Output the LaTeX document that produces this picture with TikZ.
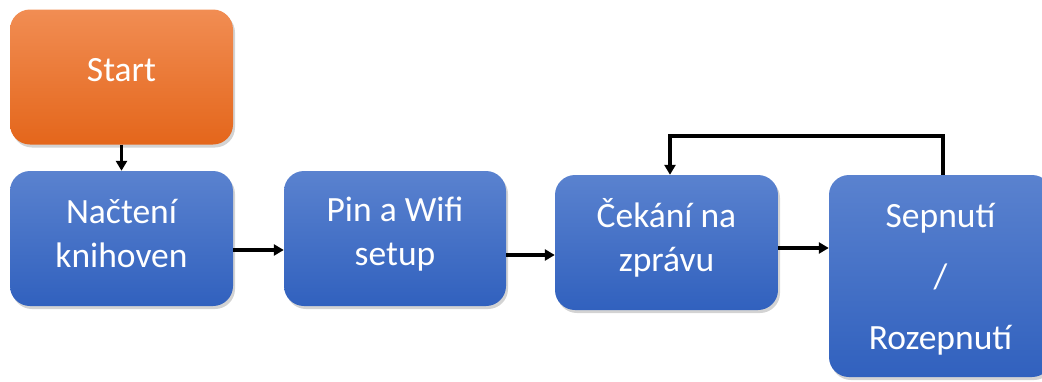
\documentclass[tikz,border=0pt]{standalone}
\usepackage{fontspec}
\setmainfont{Carlito}
\usetikzlibrary{arrows.meta,shadows,calc}
\definecolor{bluetop}{HTML}{5A82CF}
\definecolor{bluebot}{HTML}{3161BE}
\definecolor{orgtop}{HTML}{F18D53}
\definecolor{orgbot}{HTML}{E4661B}
\tikzset{
  box/.style={rounded corners=20pt, minimum width=223pt, minimum height=135pt,
    inner sep=0pt,
    drop shadow={opacity=0.35, shadow xshift=2pt, shadow yshift=-3pt}},
  bluebox/.style={box, top color=bluetop, bottom color=bluebot},
  orangebox/.style={box, top color=orgtop, bottom color=orgbot},
  boxtext/.style={align=center, text=white, inner sep=0pt,
    font=\fontsize{35.5}{44}\selectfont},
  arr/.style={line width=3.5pt, -{Triangle[length=10pt,width=11pt]}},
}
\begin{document}
\begin{tikzpicture}[x=1pt,y=-1pt]
  \useasboundingbox (0,0) rectangle (1042,381);
  \begin{scope}
  \clip (0,0) rectangle (1042,381);
  \node[orangebox] (start) at (121.5,77) {};
  \node[bluebox] (n1) at (121.5,238.5) {};
  \node[bluebox, minimum width=222pt] (n2) at (395,238.5) {};
  \node[bluebox] (n3) at (666.5,242.5) {};
  \node[bluebox, minimum height=202pt] (n4) at (940.5,276) {};
  \end{scope}

  \node[boxtext] (t0) at ([yshift=7pt]start.center) {Start};
  \node[boxtext] (t1) at ([yshift=5pt]n1.center) {Načtení\\knihoven};
  \node[boxtext] (t2) at ([yshift=4.5pt]n2.center) {Pin a Wifi\\setup};
  \node[boxtext] (t3) at ([yshift=5pt]n3.center) {Čekání na\\zprávu};
  \node[boxtext, font=\fontsize{35.5}{61}\selectfont] (t4) at ([yshift=-3pt]n4.center) {Sepnutí\\/\\Rozepnutí};

  \draw[arr] (start.south) -- (n1.north);
  \draw[arr] ([yshift=-11.5pt]n1.east) coordinate (a1) -- (a1 -| n2.west);
  \draw[arr] ([yshift=-16.5pt]n2.east) coordinate (a2) -- (a2 -| n3.west);
  \draw[arr] ([yshift=-5.5pt]n3.east) coordinate (a3) -- (a3 -| n4.west);
  \draw[arr] ([xshift=2.5pt]n4.north) -- ++(0,-39) -| ([xshift=3.5pt]n3.north);
\end{tikzpicture}
\end{document}
